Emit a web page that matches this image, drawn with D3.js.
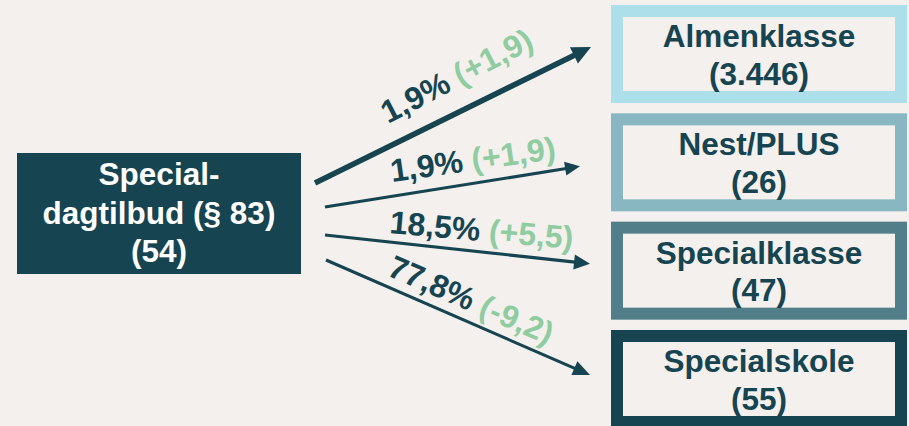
<!DOCTYPE html>
<html><head><meta charset="utf-8">
<script src="https://cdn.jsdelivr.net/npm/d3@7"></script>
<style>
html,body{margin:0;padding:0;background:#f3f0ed;}
svg{display:block;}
text{font-family:"Liberation Sans",Arial,sans-serif;font-weight:bold;}
</style></head><body>
<div id="chart"></div>
<script>
// ---- data ----
const sourceLines = ["Special-", "dagtilbud (§ 83)", "(54)"];
const targets = ["Almenklasse", "Nest/PLUS", "Specialklasse", "Specialskole"];
const targetCounts = ["(3.446)", "(26)", "(47)", "(55)"];
const shares = ["1,9%", "1,9%", "18,5%", "77,8%"];
const changes = ["(+1,9)", "(+1,9)", "(+5,5)", "(-9,2)"];

// ---- styles / layout ----
const W = 909, H = 426;
const dark = "#164450", green = "#8fcc9f", bg = "#f3f0ed";
const borderColors = ["#acdfe9", "#88b7c2", "#527e89", "#164450"];
const arrowStyle = [
  {x0: 315, y0: 183, tx: 591, dy: -7, sw: 5.5, hl: 19, hw: 9},
  {x0: 325, y0: 207, tx: 580, dy: 4, sw: 3.2, hl: 15, hw: 7},
  {x0: 325, y0: 235, tx: 590, dy: -7, sw: 3.2, hl: 16, hw: 7.5},
  {x0: 326, y0: 260, tx: 590, dy: -4, sw: 3, hl: 17, hw: 7.5}
];
const labelStyle = [
  {x: 388, y: 124, a: -27.5},
  {x: 392, y: 182, a: -8},
  {x: 389, y: 233, a: 5},
  {x: 386, y: 275, a: 23.5}
];

const svg = d3.select("#chart").append("svg").attr("width", W).attr("height", H);
svg.append("rect").attr("width", W).attr("height", H).attr("fill", bg);

const y = d3.scalePoint().domain(targets).range([54, 379]);

// source box
const src = svg.append("g");
src.append("rect").attr("x", 17).attr("y", 153).attr("width", 284).attr("height", 121).attr("fill", dark);
src.selectAll("text").data(sourceLines).join("text")
  .attr("x", 159).attr("y", (d, i) => 185 + i * 38.5)
  .attr("text-anchor", "middle").attr("fill", "#ffffff").attr("font-size", 31.5)
  .text(d => d);

// target boxes
const bw = 296, bh = 98, bt = 12;
const tg = svg.selectAll("g.target").data(targets).join("g").attr("class", "target")
  .attr("transform", d => `translate(611,${y(d) - bh / 2})`);
tg.append("rect").attr("x", bt / 2).attr("y", bt / 2).attr("width", bw - bt).attr("height", bh - bt)
  .attr("fill", bg).attr("stroke", (d, i) => borderColors[i]).attr("stroke-width", bt);
tg.append("text").attr("x", bw / 2).attr("y", bh / 2 - 7).attr("text-anchor", "middle")
  .attr("fill", dark).attr("font-size", 31.5).text(d => d);
tg.append("text").attr("x", bw / 2).attr("y", bh / 2 + 30.5).attr("text-anchor", "middle")
  .attr("fill", dark).attr("font-size", 31.5).text((d, i) => targetCounts[i]);

// arrows
targets.forEach((t, i) => {
  const s = arrowStyle[i];
  const x1 = s.tx, y1 = y(t) + s.dy;
  const ang = Math.atan2(y1 - s.y0, x1 - s.x0);
  const c = Math.cos(ang), sn = Math.sin(ang);
  const bx = x1 - s.hl * c, by = y1 - s.hl * sn;
  svg.append("line").attr("x1", s.x0).attr("y1", s.y0).attr("x2", bx + c).attr("y2", by + sn)
    .attr("stroke", dark).attr("stroke-width", s.sw);
  const pts = [[x1, y1], [bx - s.hw * sn, by + s.hw * c], [bx + s.hw * sn, by - s.hw * c]];
  svg.append("path").attr("d", d3.line()(pts) + "Z").attr("fill", dark);
});

// labels
shares.forEach((sh, i) => {
  const l = labelStyle[i];
  const t = svg.append("text").attr("transform", `translate(${l.x},${l.y}) rotate(${l.a})`)
    .attr("font-size", 32);
  t.append("tspan").attr("fill", dark).text(sh + " ");
  t.append("tspan").attr("fill", green).text(changes[i]);
});
</script></body></html>
